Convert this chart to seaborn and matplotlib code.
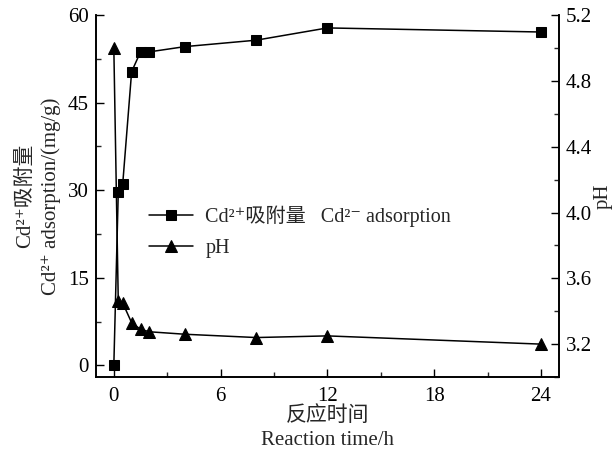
import matplotlib
matplotlib.use("Agg")
import matplotlib.pyplot as plt
import seaborn as sns
import pandas as pd
from matplotlib.ticker import MultipleLocator

time_h = [0, 0.25, 0.5, 1, 1.5, 2, 4, 8, 12, 24]
cd_adsorption = [0, 29.7, 31.1, 50.3, 53.7, 53.7, 54.6, 55.7, 57.8, 57.1]
ph_values = [5.0, 3.46, 3.45, 3.33, 3.29, 3.275, 3.26, 3.24, 3.25, 3.2]

x_ticks = [0, 6, 12, 18, 24]
left_ticks = [0, 15, 30, 45, 60]
right_ticks = [3.2, 3.6, 4.0, 4.4, 4.8, 5.2]

label_cd = "Cd²⁺吸附量   Cd²⁻ adsorption"
label_ph = "pH"

sns.set_theme(style="ticks")
fam = ["Liberation Serif", "DejaVu Serif", "Noto Sans CJK SC"]
plt.rcParams["font.family"] = fam
plt.rcParams["font.size"] = 15

df = pd.DataFrame({"t": time_h, "cd": cd_adsorption, "ph": ph_values})

fig = plt.figure(figsize=(6.14, 4.57), dpi=100)
ax = fig.add_axes([0.1564, 0.175, 0.7536, 0.792])
ax2 = ax.twinx()

sns.lineplot(data=df, x="t", y="cd", ax=ax, color="black", marker="s",
             markersize=6.5, linewidth=1.1, markeredgecolor="black", label=label_cd, legend=False)
sns.lineplot(data=df, x="t", y="ph", ax=ax2, color="black", marker="^",
             markersize=8.5, linewidth=1.1, markeredgecolor="black", label=label_ph, legend=False)

ax.set_xlim(-1, 25)
ax.set_ylim(-2, 60)
ax2.set_ylim(3.0, 5.2)
ax.set_xticks(x_ticks)
ax.set_yticks(left_ticks)
ax2.set_yticks(right_ticks)
ax.xaxis.set_minor_locator(MultipleLocator(3))
ax.yaxis.set_minor_locator(MultipleLocator(7.5))
ax2.yaxis.set_minor_locator(MultipleLocator(0.2))
ax2.set_yticklabels([f"{v:.1f}" for v in right_ticks])

for a in (ax, ax2):
    a.spines["top"].set_visible(False)
    for s in a.spines.values():
        s.set_linewidth(1.2)
        s.set_color("black")
    a.tick_params(which="major", direction="in", length=6, width=1.0, labelsize=15,
                  colors="black", pad=5)
    a.tick_params(which="minor", direction="in", length=3.5, width=1.0)
ax.tick_params(axis="y", which="both", right=False)
ax2.tick_params(axis="y", which="both", left=False)
ax.tick_params(axis="x", which="both", top=False)
ax.tick_params(axis="x", which="major", pad=7)

ax.set_xlabel("反应时间\nReaction time/h", fontsize=15, linespacing=1.4, labelpad=0)
ax.set_ylabel("Cd²⁺吸附量\nCd²⁺ adsorption/(mg/g)", fontsize=15, linespacing=1.45, labelpad=5)
ax2.set_ylabel("pH", fontsize=15, labelpad=1)

h1, l1 = ax.get_legend_handles_labels()
h2, l2 = ax2.get_legend_handles_labels()
ax.legend(h1 + h2, l1 + l2, frameon=False, loc="upper left",
          bbox_to_anchor=(0.075, 0.525), fontsize=14.5, handlelength=2.2,
          handletextpad=0.6, labelspacing=0.6)

fig.savefig("out.png", dpi=100)
